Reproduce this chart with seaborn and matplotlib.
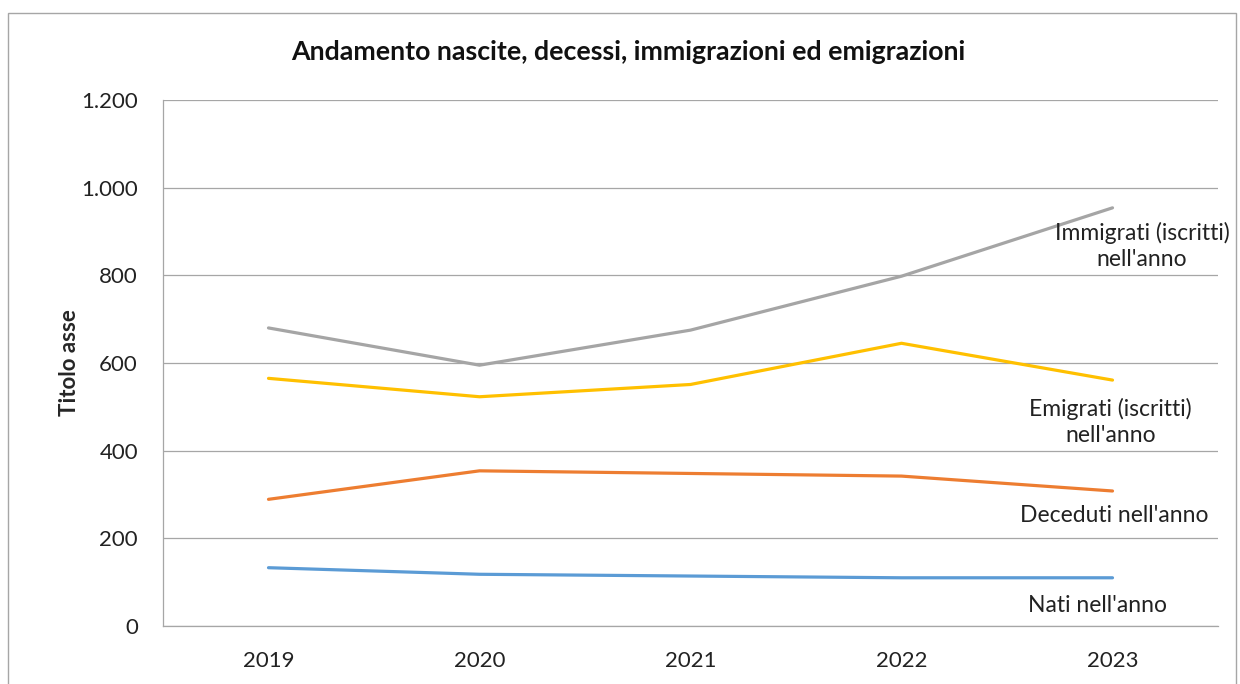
import pandas as pd
import numpy as np
import matplotlib
matplotlib.use("Agg")
import matplotlib.pyplot as plt
import matplotlib.ticker as mticker
from matplotlib.patches import Rectangle
import seaborn as sns

# ----------------------------------------------------------------------
# Data
# ----------------------------------------------------------------------
anni = ["2019", "2020", "2021", "2022", "2023"]
nati = [133, 118, 114, 110, 110]
deceduti = [289, 354, 348, 342, 308]
immigrati = [680, 595, 675, 798, 954]
emigrati = [565, 523, 551, 645, 561]

serie = ["Nati nell'anno", "Deceduti nell'anno",
         "Immigrati (iscritti)\nnell'anno", "Emigrati (iscritti)\nnell'anno"]
valori = [nati, deceduti, immigrati, emigrati]
colori = ["#5B9BD5", "#ED7D31", "#A5A5A5", "#FFC000"]

df = pd.DataFrame({
    "anno": anni * len(serie),
    "valore": sum(valori, []),
    "serie": np.repeat(serie, len(anni)),
})

# ----------------------------------------------------------------------
# Plot
# ----------------------------------------------------------------------
sns.set_theme(style="white")
plt.rcParams['font.family'] = ['Lato', 'DejaVu Sans']

fig = plt.figure(figsize=(12.4, 6.84), dpi=100)
ax = fig.add_axes([163 / 1240, 1 - 626 / 684, (1218 - 163) / 1240, (626 - 100) / 684])

sns.lineplot(data=df, x="anno", y="valore", hue="serie", palette=colori,
             hue_order=serie, linewidth=2.3, legend=False, ax=ax)

ax.set_xlim(-0.5, 4.5)
ax.set_ylim(0, 1200)
ax.yaxis.set_major_locator(mticker.MultipleLocator(200))
ax.yaxis.set_major_formatter(mticker.FuncFormatter(lambda v, p: f"{int(v):,}".replace(",", ".")))
ax.grid(axis="y", color="#a6a6a6", linewidth=0.9)
ax.grid(axis="x", visible=False)
for s in ["top", "right"]:
    ax.spines[s].set_visible(False)
for s in ["left", "bottom"]:
    ax.spines[s].set_color("#a6a6a6")
    ax.spines[s].set_linewidth(0.9)
ax.tick_params(axis="both", length=0, labelsize=16, colors="#222222")
ax.tick_params(axis="y", pad=18)
ax.tick_params(axis="x", pad=18)

ax.set_xlabel("")
ax.set_ylabel("Titolo asse", fontsize=16, fontweight="bold", labelpad=1)

# series labels next to the lines
etichette = [(3.93, 46), (4.01, 253), (4.14, 867), (3.99, 465)]
for testo, (xp, yp) in zip(serie, etichette):
    ax.text(xp, yp, testo, ha="center", va="center", fontsize=16.5,
            color="#222222", linespacing=1.3)

fig.text(628 / 1240, 1 - 52 / 684, "Andamento nascite, decessi, immigrazioni ed emigrazioni",
         ha="center", va="center", fontsize=19.3, fontweight="bold", color="#111111")

# outer chart frame
fig.patches.append(Rectangle((8 / 1240, -0.02), (1236 - 8) / 1240, 1.02 - 13 / 684,
                             transform=fig.transFigure, fill=False,
                             edgecolor="#a6a6a6", linewidth=1))

fig.savefig("out.png", dpi=100)
